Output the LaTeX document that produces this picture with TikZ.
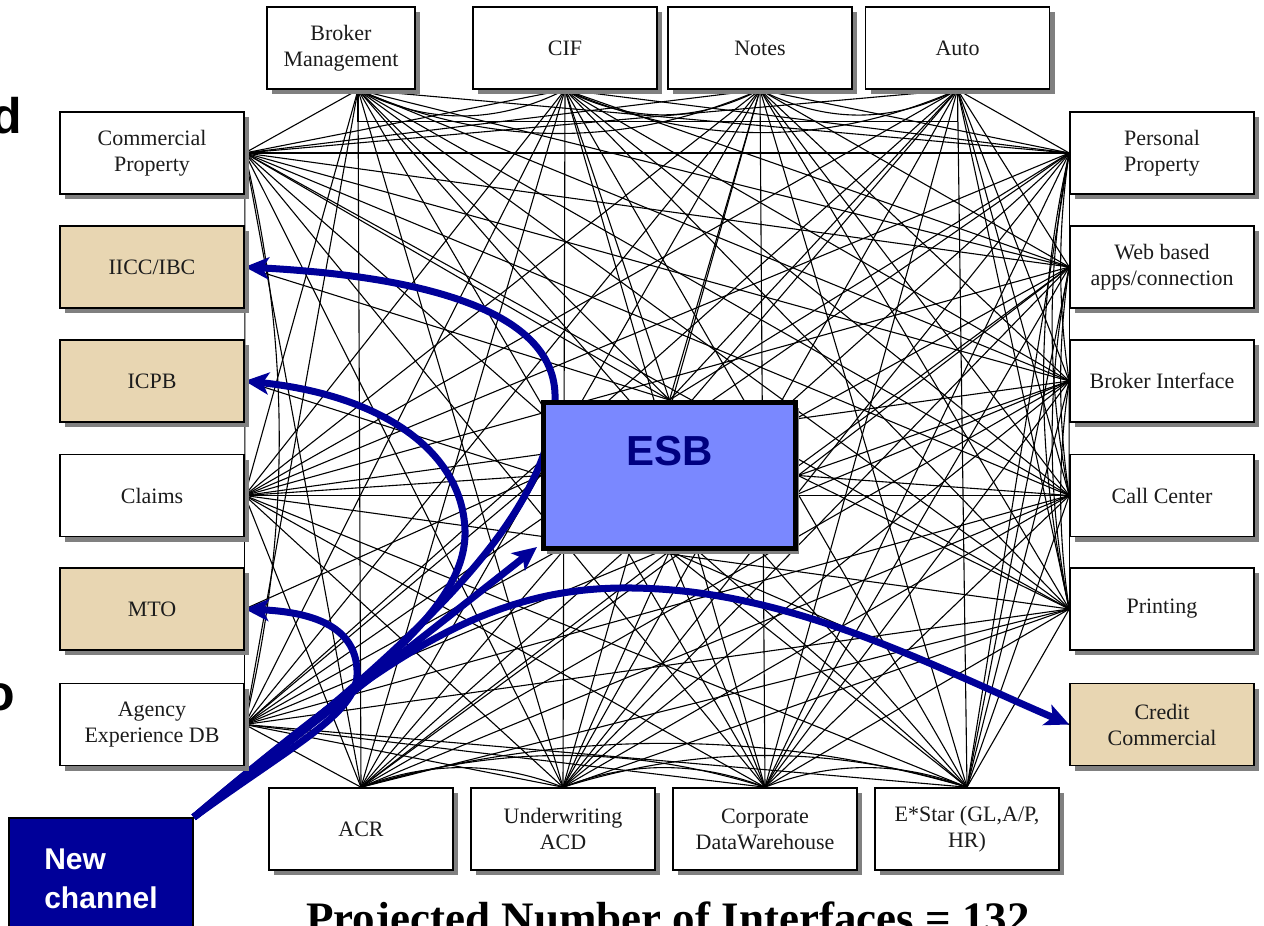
\documentclass[tikz,border=0pt]{standalone}
\usepackage{fontspec}
\setmainfont{Liberation Serif}
\setsansfont{Liberation Sans}
\usetikzlibrary{calc,shadows,arrows.meta}

\definecolor{routeblue}{RGB}{0,0,153}
\definecolor{busfill}{RGB}{122,136,255}
\definecolor{bustext}{RGB}{0,0,128}
\definecolor{parchment}{RGB}{232,214,178}
\definecolor{shadowgrey}{RGB}{128,128,128}
\definecolor{labelgrey}{RGB}{28,28,28}

\pgfdeclarelayer{paper}
\pgfdeclarelayer{wires}
\pgfdeclarelayer{routes}
\pgfsetlayers{paper,wires,routes,main}

\tikzset{
  sysbox/.style={draw=black, line width=1.6pt, fill=white,
    minimum width=184pt, minimum height=82pt, inner sep=0pt,
    align=center, text=labelgrey, font=\fontsize{22}{26}\selectfont,
    general shadow={fill=shadowgrey, shadow xshift=5pt, shadow yshift=-5pt}},
  legacybox/.style={sysbox, fill=parchment},
  wire/.style={line width=1.1pt, draw=black},
  route/.style={line width=7pt, draw=routeblue,
    -{Stealth[length=24pt, width=22pt, inset=6pt]}},
  busbox/.style={draw=black, line width=5pt, fill=busfill,
    minimum width=252pt, minimum height=146pt,
    general shadow={fill=shadowgrey, shadow xshift=3pt, shadow yshift=-5pt}},
  channelbox/.style={draw=black, line width=1.5pt, fill=routeblue,
    minimum width=184pt, minimum height=122pt, inner sep=0pt,
    align=left, text=white, font=\sffamily\bfseries\fontsize{30}{39}\selectfont},
  cutword/.style={font=\sffamily\bfseries\fontsize{50}{60}\selectfont,
    anchor=base east, inner sep=0pt},
}

% the existing systems, with the side of the frame each one sits on
\def\peerlist{bm/T,cif/T,notes/T,auto/T,cp/L,claims/L,aedb/L,pp/R,web/R,bi/R,cc/R,prn/R,acr/B,uw/B,cdw/B,estar/B}

% links between two systems on the same side bow into the middle
\newcommand\peerT[2]{%
  \edef\pairname{#1#2}\def\elbowpair{bmauto}%
  \ifx\pairname\elbowpair
    \draw[wire] (a-#1) -- ++(0,32) -| (a-#2);
  \else
    \draw[wire] let \p1=(a-#1), \p2=(a-#2),
      \n1={0.12*((\x2)-(\x1))+10pt}, \n2={((\x2)-(\x1))/3} in
      (a-#1) .. controls +(\n2,-\n1) and +(-\n2,-\n1) .. (a-#2);
  \fi}
\newcommand\peerB[2]{%
  \draw[wire] let \p1=(a-#1), \p2=(a-#2),
    \n1={0.08*((\x2)-(\x1))+10pt}, \n2={((\x2)-(\x1))/3} in
    (a-#1) .. controls +(\n2,\n1) and +(-\n2,\n1) .. (a-#2);}
\newcommand\peerL[2]{%
  \draw[wire] let \p1=(a-#1), \p2=(a-#2),
    \n1={max(0pt,0.2*((\y1)-(\y2)-342pt))}, \n2={((\y1)-(\y2))/3} in
    (a-#1) .. controls +(\n1,-\n2) and +(\n1,\n2) .. (a-#2);}
\newcommand\peerR[2]{%
  \draw[wire] let \p1=(a-#1), \p2=(a-#2),
    \n1={max(0pt,0.1*((\y1)-(\y2)-114pt))}, \n2={((\y1)-(\y2))/3} in
    (a-#1) .. controls +(-\n1,-\n2) and +(-\n1,\n2) .. (a-#2);}

\begin{document}
\begin{tikzpicture}[x=1pt, y=-1pt]
\begin{pgfonlayer}{paper}
  \fill[white] (0,0) rectangle (1264,926);
\end{pgfonlayer}
\useasboundingbox (0,0) rectangle (1264,926);

% upper row
\node[sysbox, minimum width=148pt] (bm) at (341,48) {Broker\\Management};
\node[sysbox] (cif)   at (565,48)   {CIF};
\node[sysbox] (notes) at (760,48)   {Notes};
\node[sysbox] (auto)  at (957.5,48) {Auto};
% left column
\node[sysbox]    (cp)     at (152,153)   {Commercial\\Property};
\node[legacybox] (iicc)   at (152,267)   {IICC/IBC};
\node[legacybox] (icpb)   at (152,381)   {ICPB};
\node[sysbox]    (claims) at (152,495.5) {Claims};
\node[legacybox] (mto)    at (152,609)   {MTO};
\node[sysbox]    (aedb)   at (152,724.5) {Agency\\Experience DB};
% right column
\node[sysbox]    (pp)    at (1162,153)   {Personal\\Property};
\node[sysbox]    (web)   at (1162,267)   {Web based\\apps/connection};
\node[sysbox]    (bi)    at (1162,381)   {Broker Interface};
\node[sysbox]    (cc)    at (1162,495.5) {Call Center};
\node[sysbox]    (prn)   at (1162,609)   {Printing};
\node[legacybox] (credc) at (1162,724.5) {Credit\\Commercial};
% lower row
\node[sysbox] (acr)   at (361,829) {ACR};
\node[sysbox] (uw)    at (563,829) {Underwriting\\ACD};
\node[sysbox] (cdw)   at (765,829) {Corporate\\DataWarehouse};
\node[sysbox] (estar) at (967,829) {E*Star (GL,A/P,\\HR)};

% the bus in the middle
\node[busbox, label={[font=\sffamily\bfseries\fontsize{42}{50}\selectfont,
    text=bustext, yshift=24pt]center:ESB}] (esb) at (669.5,475.5) {};

% the new channel
\node[channelbox] (nc) at (101,879) {New\\channel};

% headline and clipped words at the edges
\node[font=\bfseries\fontsize{45}{54}\selectfont, anchor=base, inner sep=0pt]
  (tally) at (668,933) {Projected Number of Interfaces = 132};
\node[cutword] (cutd) at (22,133) {d};
\node[cutword] (cuto) at (15,710) {o};

% where the wires attach
\coordinate (a-bm) at ([xshift=17pt]bm.south);
\foreach \k in {cif,notes,auto} \coordinate (a-\k) at (\k.south);
\foreach \k in {cp,iicc,icpb,claims,mto,aedb} \coordinate (a-\k) at (\k.east);
\foreach \k in {pp,web,bi,cc,prn,credc} \coordinate (a-\k) at (\k.west);
\foreach \k in {acr,uw,cdw,estar} \coordinate (a-\k) at (\k.north);

% point-to-point interfaces
\begin{pgfonlayer}{wires}
  \foreach \a/\sa [count=\i] in \peerlist {
    \foreach \b/\sb [count=\j] in \peerlist {
      \ifnum\j>\i\relax
        \ifx\sa\sb \csname peer\sa\endcsname{\a}{\b}%
        \else \draw[wire] (a-\a) -- (a-\b);%
        \fi
      \fi
    }
  }
  \foreach \k/\sd in {bm/north,cif/north,notes/north,auto/north,cp/north,pp/north,
      iicc/north,icpb/west,claims/west,mto/west,aedb/west,
      web/east,bi/east,cc/east,prn/east,
      credc/south,acr/south,uw/south,cdw/south,estar/south}
    \draw[wire] (a-\k) -- (esb.\sd);
\end{pgfonlayer}

% routes of the new channel
\begin{pgfonlayer}{routes}
  \draw[route] (nc.north east) .. controls (420,640) and (548,520) .. (555,400)
    .. controls (558,320) and (450,278) .. (iicc.east);
  \draw[route] (nc.north east) .. controls (330,700) and (468,620) .. (465,530)
    .. controls (462,450) and (380,395) .. (icpb.east);
  \draw[route] (nc.north east) -- ([xshift=-4pt,yshift=4pt]esb.south west);
  \draw[route] (nc.north east) .. controls (300,740) and (360,712) .. (357,670)
    .. controls (355,625) and (310,612) .. (mto.east);
  \draw[route] (nc.north east) .. controls (380,660) and (480,590) .. (620,588)
    .. controls (780,586) and (920,660) .. (credc.west);
\end{pgfonlayer}
\end{tikzpicture}
\end{document}
